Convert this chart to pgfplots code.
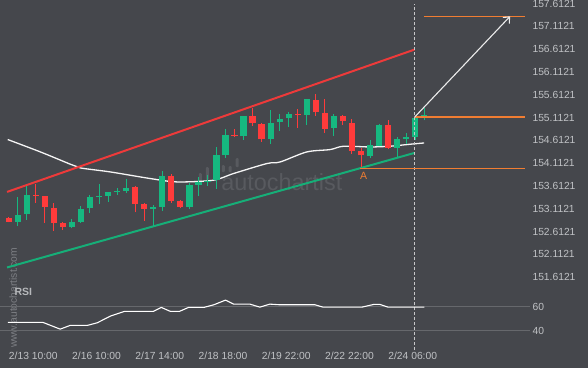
\documentclass[border=0pt]{standalone}
\usepackage{pgfplots}
\pgfplotsset{compat=1.18}
\usepackage{pgfplotstable}
\usepackage{fontspec}
\setmainfont{Liberation Sans}
\usetikzlibrary{arrows.meta}

\definecolor{bg}{RGB}{69,71,76}
\definecolor{cgreen}{RGB}{22,184,128}
\definecolor{cred}{RGB}{255,59,59}
\definecolor{chred}{RGB}{238,58,58}
\definecolor{chgreen}{RGB}{22,175,120}
\definecolor{corange}{RGB}{240,125,50}
\definecolor{txt}{RGB}{192,194,197}
\definecolor{gridc}{RGB}{102,104,108}
\definecolor{wmark}{RGB}{88,90,95}
\definecolor{wtext}{RGB}{125,127,132}
\definecolor{dashc}{RGB}{200,200,202}

% green candles: index open high low close
\pgfplotstableread{
i o h l c
1 152.823 153.358 152.728 152.970
2 152.985 153.606 152.860 153.408
7 152.700 152.882 152.678 152.823
8 152.823 153.167 152.801 153.095
9 153.117 153.408 153.020 153.358
10 153.375 153.649 153.226 153.400
11 153.397 153.480 153.261 153.474
12 153.480 153.568 153.423 153.505
13 153.496 153.774 153.459 153.577
16 153.115 153.204 152.728 153.140
17 153.152 153.934 153.057 153.825
20 153.152 153.687 153.101 153.627
21 153.627 153.810 153.393 153.700
22 153.705 153.847 153.612 153.730
23 153.737 154.467 153.555 154.301
24 154.301 154.871 154.235 154.739
26 154.702 155.150 154.630 155.141
29 154.636 155.288 154.542 155.003
30 155.016 155.200 154.818 155.090
31 155.103 155.235 154.906 155.200
33 155.178 155.520 154.959 155.513
36 154.884 155.200 154.709 155.141
40 154.264 154.614 154.226 154.505
41 154.489 154.965 154.480 154.943
43 154.446 154.687 154.248 154.636
44 154.652 154.783 154.542 154.687
45 154.687 155.125 154.621 155.112
46 155.135 155.323 155.053 155.160
}\greentab

% red candles: index open high low close
\pgfplotstableread{
i o h l c
0 152.919 152.930 152.810 152.823
3 153.415 153.649 153.248 153.390
4 153.386 153.390 152.801 153.152
5 153.138 153.248 152.619 152.801
6 152.801 152.823 152.641 152.713
14 153.584 153.612 153.029 153.226
15 153.211 153.248 152.844 153.101
18 153.831 153.869 153.239 153.277
19 153.277 153.299 153.117 153.152
25 154.735 154.871 154.687 154.710
27 155.141 155.323 154.928 154.994
28 154.981 154.990 154.577 154.636
32 155.200 155.310 154.893 155.163
34 155.507 155.638 155.141 155.235
35 155.222 155.529 154.783 154.871
37 155.141 155.178 154.959 155.031
38 154.987 155.090 154.323 154.380
39 154.373 154.446 154.029 154.285
42 154.943 155.053 154.432 154.454
}\redtab

\begin{document}
\begin{tikzpicture}
\fill[bg] (0pt,0pt) rectangle (588pt,368pt);

% watermark
\node[anchor=base west, inner sep=0pt, text=wmark, font=\fontsize{23.4}{26}\selectfont] at (221pt,177.5pt) {autochartist};
\fill[wmark, rounded corners=1pt] (198.5pt,186pt) rectangle (201.5pt,195pt);
\fill[wmark, rounded corners=1pt] (205.5pt,188pt) rectangle (208.5pt,201pt);
\fill[wmark, rounded corners=1pt] (221.5pt,196pt) rectangle (224.5pt,203pt);
\fill[wmark, rounded corners=1pt] (228.5pt,196pt) rectangle (231.5pt,202pt);
\fill[wmark, rounded corners=1pt] (235.5pt,201pt) rectangle (238.5pt,210pt);
\node[anchor=base west, inner sep=0pt, rotate=90, text=wtext, font=\fontsize{10.3}{12}\selectfont] at (16.5pt,20pt) {www.autochartist.com};

\pgfplotsset{
  every axis/.append style={
    scale only axis, anchor=south west,
    axis line style={draw=none},
    tick style={draw=none}, major tick length=0pt,
    xmin=-0.918, xmax=57.71, width=530pt,
    ticklabel style={font=\fontsize{10.3}{12}\selectfont, text=txt, inner sep=0pt},
    yticklabel pos=right,
    yticklabel style={anchor=west, xshift=2.3pt},
  },
  candle/.style n args={2}{draw=none, mark=none, forget plot,
    error bars/.cd, y dir=plus, y explicit, error mark=none,
    error bar style={draw=#1, line width=#2, solid}},
}

% main price panel
\begin{axis}[
  at={(0pt,83pt)}, height=285pt,
  ymin=151.4345, ymax=157.6845,
  xtick=\empty,
  ytick={151.6121,152.1121,152.6121,153.1121,153.6121,154.1121,154.6121,155.1121,155.6121,156.1121,156.6121,157.1121,157.6121},
  yticklabels={151.6121,152.1121,152.6121,153.1121,153.6121,154.1121,154.6121,155.1121,155.6121,156.1121,156.6121,157.1121,157.6121},
]
% moving average
\addplot[white!92!gray, line width=1.3pt, smooth] coordinates {
(-0.11,154.630) (3.51,154.358) (6.83,154.088) (7.93,154.007) (11.25,153.919) (15.67,153.774)
(18.63,153.700) (22.64,153.737) (24.89,153.884) (28.58,154.103) (30.05,154.138) (33.0,154.358)
(35.59,154.410) (37.06,154.483) (40.0,154.467) (42.2,154.483) (44.44,154.527) (45.99,154.555)};
% channel
\addplot[chred, line width=2pt] coordinates {(-0.18,153.4805) (44.91,156.6033)};
\addplot[chgreen, line width=2pt] coordinates {(-0.18,151.8226) (44.91,154.3358)};
% wicks
\addplot[candle={cgreen}{1pt}] table[x=i, y=l, y error plus expr=\thisrow{h}-\thisrow{l}] {\greentab};
\addplot[candle={cred}{1pt}] table[x=i, y=l, y error plus expr=\thisrow{h}-\thisrow{l}] {\redtab};
% bodies
\addplot[candle={cgreen}{6.3pt}] table[x=i, y=o, y error plus expr=\thisrow{c}-\thisrow{o}] {\greentab};
\addplot[candle={cred}{6.3pt}] table[x=i, y=c, y error plus expr=\thisrow{o}-\thisrow{c}] {\redtab};
% dashed current line
\addplot[dashc, line width=0.7pt, dash pattern=on 3pt off 2pt] coordinates {(44.91,151.4345) (44.91,157.597)};
% orange levels
\addplot[corange, line width=1.2pt] coordinates {(45.97,157.3336) (57.16,157.3336)};
\addplot[corange, line width=1.2pt] coordinates {(44.99,155.125) (57.16,155.125)};
\addplot[corange, line width=1.2pt] coordinates {(38.9,153.9937) (57.16,153.9937)};
% forecast arrow
\addplot[white!85!gray, line width=1.1pt, -{Straight Barb[length=5pt,width=9pt]}] coordinates {(44.95,155.125) (55.5,157.3336)};
\node[text=corange, font=\fontsize{10.5}{12}\selectfont] at (axis cs:39.3,153.83) {A};
\end{axis}

% RSI panel
\begin{axis}[
  at={(0pt,18pt)}, height=65pt,
  ymin=23.92, ymax=78.08,
  ytick={40,60}, yticklabels={40,60},
  ymajorgrids, grid style={gridc, line width=0.8pt},
  xtick={3,10,17,24,31,38,45},
  xticklabels={2/13 10:00,2/16 10:00,2/17 14:00,2/18 18:00,2/19 22:00,2/22 22:00,2/24 06:00},
  xticklabel style={anchor=north, xshift=-2.5pt, yshift=-1.7pt},
]
\addplot[dashc, line width=0.7pt, dash pattern=on 3pt off 2pt] coordinates {(44.91,23.92) (44.91,78.08)};
\addplot[white, line width=1.1pt] coordinates {
(-0.1,47) (3.8,47) (5.7,41.4) (6.8,44.5) (8.7,44.5) (9.8,46.7) (11.25,52.25) (12.8,56.2)
(16.0,56.2) (16.9,59.5) (17.9,56.2) (18.9,56.2) (19.9,59.5) (21.6,59.5) (22.7,61.7) (24.0,65.6)
(24.9,62.25) (26.7,62.25) (27.8,59.75) (28.9,62.25) (30.05,61.7) (33.9,61.7) (34.8,59.75)
(39.1,59.75) (40.4,62) (41.1,62) (42.0,59.75) (46.0,59.75)};
\end{axis}

\node[anchor=base west, inner sep=0pt, text=txt!85!gray, font=\bfseries\fontsize{10.5}{12}\selectfont] at (14pt,73pt) {RSI};
\end{tikzpicture}
\end{document}
